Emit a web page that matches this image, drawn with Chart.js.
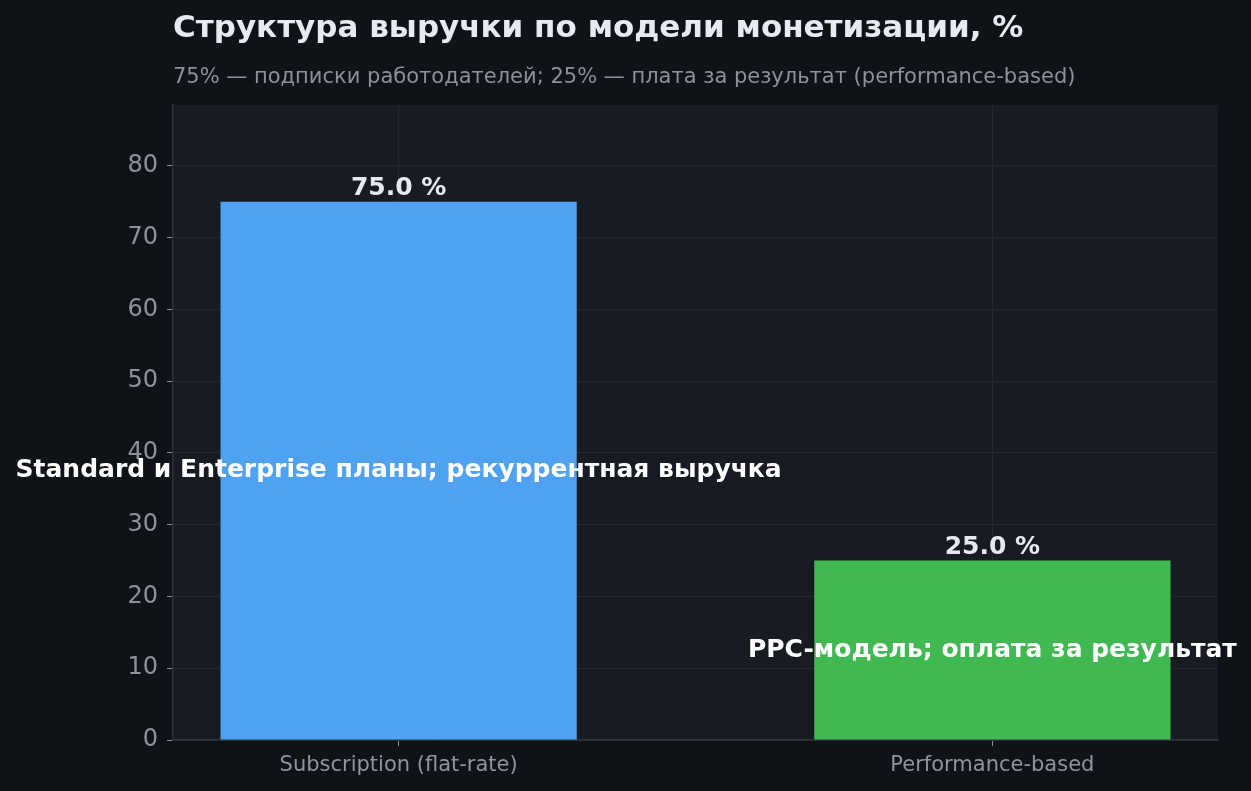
<!DOCTYPE html>
<html>
<head>
<meta charset="utf-8">
<script src="https://cdn.jsdelivr.net/npm/chart.js@4.4.1/dist/chart.umd.min.js"></script>
<style>
  html, body { margin: 0; padding: 0; background: #0f1216; }
  #wrap { width: 1251px; height: 791px; }
</style>
</head>
<body>
<div id="wrap"><canvas id="revenueChart"></canvas></div>
<script>
// Revenue structure by monetization model
const categories = ["Subscription (flat-rate)", "Performance-based"];
const shares = [75, 25];
const barColors = ["#4fa1f2", "#40b953"];
const barNotes = ["Standard и Enterprise планы; рекуррентная выручка", "PPC-модель; оплата за результат"];
const yTicks = [0, 10, 20, 30, 40, 50, 60, 70, 80];

const titleText = "Структура выручки по модели монетизации, %";
const subtitleText = "75% — подписки работодателей; 25% — плата за результат (performance-based)";

const FONT = "DejaVu Sans";

// background of plot area, titles, bar labels
const decor = {
    id: "decor",
    beforeDraw(chart) {
        const { ctx, chartArea: a } = chart;
        ctx.save();
        ctx.fillStyle = "#171b22";
        ctx.fillRect(a.left, a.top, a.right - a.left, a.bottom - a.top);
        ctx.restore();
    },
    afterDraw(chart) {
        const { ctx, chartArea: a } = chart;
        const meta = chart.getDatasetMeta(0);
        const yScale = chart.scales.y;
        ctx.save();
        ctx.textAlign = "left";
        ctx.textBaseline = "middle";
        ctx.fillStyle = "#e6ebf1";
        ctx.font = `bold 31px "${FONT}"`;
        ctx.fillText(titleText, a.left, 29);
        ctx.fillStyle = "#8b929b";
        ctx.font = `21px "${FONT}"`;
        ctx.fillText(subtitleText, a.left, 78);

        ctx.textAlign = "center";
        meta.data.forEach((bar, i) => {
            ctx.fillStyle = "#e6e9ee";
            ctx.font = `bold 25px "${FONT}"`;
            ctx.textBaseline = "bottom";
            ctx.fillText(shares[i].toFixed(1) + " %", bar.x, bar.y - 1);

            ctx.fillStyle = "#ffffff";
            ctx.font = `bold 25px "${FONT}"`;
            ctx.textBaseline = "middle";
            ctx.fillText(barNotes[i], bar.x, yScale.getPixelForValue(shares[i] / 2));
        });
        ctx.restore();
    }
};

new Chart(document.getElementById("revenueChart"), {
    type: "bar",
    data: {
        datasets: [{
            data: shares.map((v, i) => ({ x: i, y: v })),
            backgroundColor: barColors,
            borderWidth: 0,
            barPercentage: 0.6,
            categoryPercentage: 1.0
        }]
    },
    options: {
        responsive: true,
        maintainAspectRatio: false,
        animation: false,
        layout: { padding: { top: 105, right: 33, left: 0, bottom: 0 } },
        plugins: {
            legend: { display: false },
            tooltip: { enabled: false }
        },
        scales: {
            x: {
                type: "linear",
                min: -0.38,
                max: 1.38,
                offset: false,
                afterBuildTicks: (scale) => {
                    scale.ticks = categories.map((c, i) => ({ value: i }));
                },
                afterFit: (scale) => { scale.height = 51; },
                grid: { color: "#232830", offset: false, tickLength: 6, tickColor: "#8b929b" },
                border: { color: "#2e333b", width: 1.5 },
                ticks: {
                    color: "#8f959e",
                    font: { family: FONT, size: 21 },
                    padding: 7,
                    maxRotation: 0,
                    callback: (v) => categories[v] ?? ""
                }
            },
            y: {
                min: 0,
                max: 88.5,
                afterBuildTicks: (scale) => {
                    scale.ticks = yTicks.map((v) => ({ value: v }));
                },
                afterFit: (scale) => { scale.width = 173; },
                grid: { color: "#232830", tickLength: 6, tickColor: "#8b929b" },
                border: { color: "#2e333b", width: 1.5 },
                ticks: {
                    color: "#8b929b",
                    font: { family: FONT, size: 24 },
                    padding: 9
                }
            }
        }
    },
    plugins: [decor]
});
</script>
</body>
</html>
